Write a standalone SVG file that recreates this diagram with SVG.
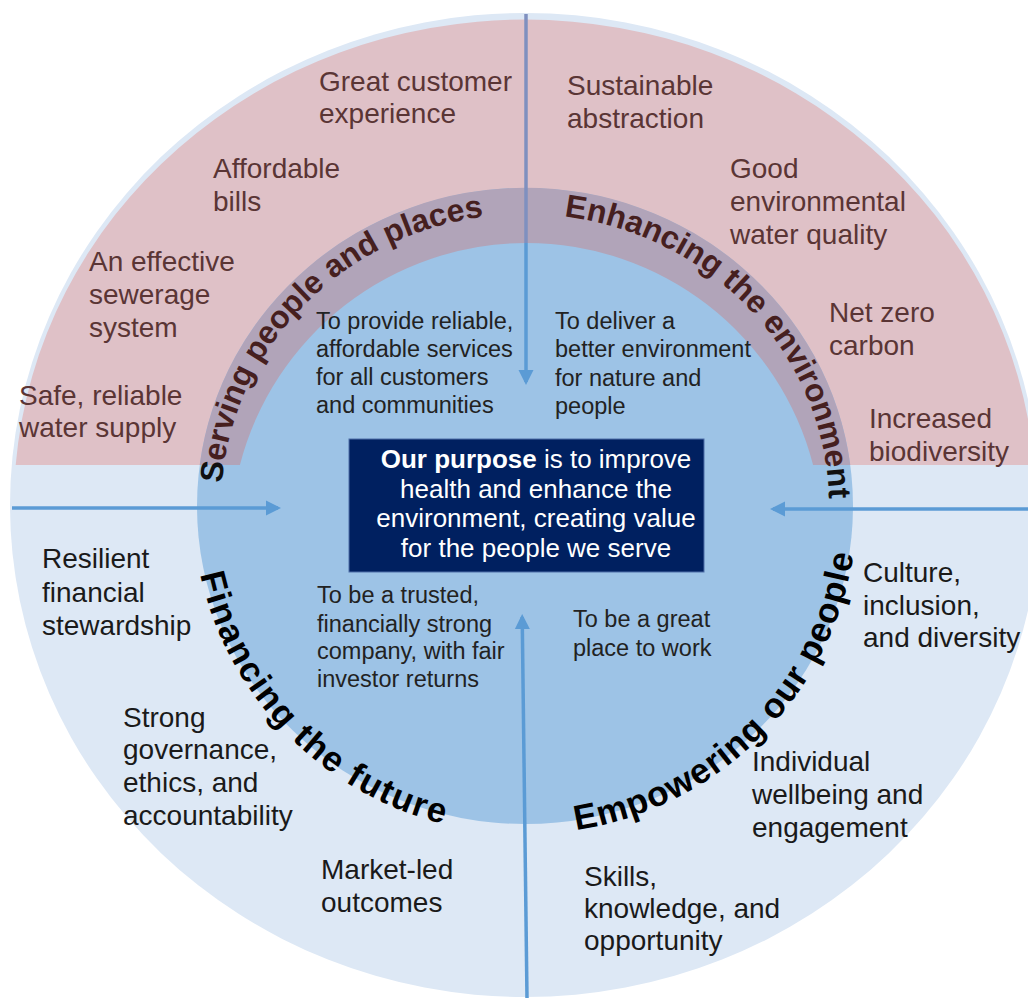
<svg xmlns="http://www.w3.org/2000/svg" width="1028" height="998" viewBox="0 0 1028 998">
  <style>
    .lbl { font-family: "Liberation Sans", Arial, sans-serif; font-size: 28px; }
    .up { fill: #5a3535; }
    .dn { fill: #1a1a1a; }
    .desc { font-family: "Liberation Sans", Arial, sans-serif; font-size: 23.5px; fill: #222222; }
    .bu { font-family: "Liberation Sans", Arial, sans-serif; font-weight: bold; font-size: 32px; fill: #461f1f; }
    .bk { fill: #111111; }
    .bd { font-family: "Liberation Sans", Arial, sans-serif; font-weight: bold; font-size: 35px; fill: #000000; }
    .fin { letter-spacing: 1.6px; }
    .emp { letter-spacing: 1px; }
    .purpose { font-family: "Liberation Sans", Arial, sans-serif; font-size: 26px; fill: #ffffff; }
    .conn { stroke: #5b9bd5; stroke-width: 3.5; fill: none; }
  </style>
  <defs>
    <marker id="ah" markerUnits="userSpaceOnUse" markerWidth="16" markerHeight="16" refX="12" refY="8" orient="auto">
      <path d="M0,0.5 L15,8 L0,15.5 Z" fill="#5b9bd5"/>
    </marker>
    <path id="pServing" d="M 221.9 483.1 A 304 292 0 0 1 551.5 215.1"/>
    <path id="pEnhancing" d="M 564.2 216.4 A 304 292 0 0 1 827.8 531.5"/>
    <path id="pFinancing" d="M 200.3 574.2 A 332 328 0 0 0 525 834"/>
    <path id="pEmpowering" d="M 576 830.1 A 332 328 0 0 0 853.8 460.4"/>
  </defs>

  <g id="rings">
    <ellipse cx="525" cy="505" rx="515" ry="492" fill="#dde8f5"/>
    <path d="M 15.7 465 A 511 485 0 0 1 1034.3 465 L 813.1 465 A 296 296 0 0 0 239.9 465 Z" fill="#dfc1c7"/>
    <ellipse cx="525" cy="506" rx="328" ry="318" fill="#9dc3e6"/>
    <path d="M 199.7 465 A 328 318 0 0 1 850.3 465 L 813.1 465 A 296 296 0 0 0 239.9 465 Z" fill="#b1a4b9"/>
  </g>

  <g id="connectors">
    <line x1="526" y1="14" x2="526" y2="243" stroke="#7f90bf" stroke-width="3.5"/>
    <line class="conn" x1="526" y1="243" x2="526" y2="382" marker-end="url(#ah)"/>
    <line class="conn" x1="527" y1="998" x2="522.2" y2="617" marker-end="url(#ah)"/>
    <line class="conn" x1="12" y1="508" x2="278" y2="508" marker-end="url(#ah)"/>
    <line class="conn" x1="1028" y1="509" x2="773" y2="509" marker-end="url(#ah)"/>
  </g>

  <g id="serving-people-and-places">
    <g id="serving-title">
      <text class="bu"><textPath href="#pServing" startOffset="0"><tspan class="bk">S</tspan>erving</textPath></text>
      <text class="bu"><textPath href="#pServing" startOffset="126.27">people</textPath></text>
      <text class="bu"><textPath href="#pServing" startOffset="238.3">and</textPath></text>
      <text class="bu"><textPath href="#pServing" startOffset="304.1">places</textPath></text>
    </g>
    <text class="desc"><tspan x="316" y="329">To provide reliable,</tspan><tspan x="316" y="357">affordable services</tspan><tspan x="316" y="385">for all customers</tspan><tspan x="316" y="413">and communities</tspan></text>
    <text class="lbl up"><tspan x="319" y="91">Great customer</tspan><tspan x="319" y="123">experience</tspan></text>
    <text class="lbl up"><tspan x="213" y="178">Affordable</tspan><tspan x="213" y="211">bills</tspan></text>
    <text class="lbl up"><tspan x="89" y="271">An effective</tspan><tspan x="89" y="304">sewerage</tspan><tspan x="89" y="337">system</tspan></text>
    <text class="lbl up"><tspan x="19" y="405">Safe, reliable</tspan><tspan x="19" y="437">water supply</tspan></text>
  </g>

  <g id="enhancing-the-environment">
    <g id="enhancing-title">
      <text class="bu"><textPath href="#pEnhancing" startOffset="0">Enhancing</textPath></text>
      <text class="bu"><textPath href="#pEnhancing" startOffset="172.48">the</textPath></text>
      <text class="bu"><textPath href="#pEnhancing" startOffset="229.38">environme<tspan class="bk">nt</tspan></textPath></text>
    </g>
    <text class="desc"><tspan x="555" y="329">To deliver a</tspan><tspan x="555" y="357">better environment</tspan><tspan x="555" y="386">for nature and</tspan><tspan x="555" y="414">people</tspan></text>
    <text class="lbl up"><tspan x="567" y="95">Sustainable</tspan><tspan x="567" y="128">abstraction</tspan></text>
    <text class="lbl up"><tspan x="730" y="178">Good</tspan><tspan x="730" y="211">environmental</tspan><tspan x="730" y="244">water quality</tspan></text>
    <text class="lbl up"><tspan x="829" y="322">Net zero</tspan><tspan x="829" y="355">carbon</tspan></text>
    <text class="lbl up"><tspan x="869" y="428">Increased</tspan><tspan x="869" y="461">biodiversity</tspan></text>
  </g>

  <g id="financing-the-future">
    <g id="financing-title">
      <text class="bd fin"><textPath href="#pFinancing" startOffset="0">Financing</textPath></text>
      <text class="bd fin"><textPath href="#pFinancing" startOffset="191.04">the</textPath></text>
      <text class="bd fin"><textPath href="#pFinancing" startOffset="259.67">future</textPath></text>
    </g>
    <text class="desc"><tspan x="317" y="603">To be a trusted,</tspan><tspan x="317" y="632">financially strong</tspan><tspan x="317" y="659">company, with fair</tspan><tspan x="317" y="687">investor returns</tspan></text>
    <text class="lbl dn"><tspan x="42" y="568">Resilient</tspan><tspan x="42" y="602">financial</tspan><tspan x="42" y="635">stewardship</tspan></text>
    <text class="lbl dn"><tspan x="123" y="727">Strong</tspan><tspan x="123" y="759">governance,</tspan><tspan x="123" y="792">ethics, and</tspan><tspan x="123" y="825">accountability</tspan></text>
    <text class="lbl dn"><tspan x="321" y="879">Market-led</tspan><tspan x="321" y="912">outcomes</tspan></text>
  </g>

  <g id="empowering-our-people">
    <g id="empowering-title">
      <text class="bd emp"><textPath href="#pEmpowering" startOffset="0">Empowering</textPath></text>
      <text class="bd emp"><textPath href="#pEmpowering" startOffset="230.77">our</textPath></text>
      <text class="bd emp"><textPath href="#pEmpowering" startOffset="300.88">people</textPath></text>
    </g>
    <text class="desc"><tspan x="573" y="627">To be a great</tspan><tspan x="573" y="656">place to work</tspan></text>
    <text class="lbl dn"><tspan x="863" y="582">Culture,</tspan><tspan x="863" y="615">inclusion,</tspan><tspan x="863" y="647">and diversity</tspan></text>
    <text class="lbl dn"><tspan x="752" y="771">Individual</tspan><tspan x="752" y="804">wellbeing and</tspan><tspan x="752" y="837">engagement</tspan></text>
    <text class="lbl dn"><tspan x="584" y="886">Skills,</tspan><tspan x="584" y="918">knowledge, and</tspan><tspan x="584" y="950">opportunity</tspan></text>
  </g>

  <g id="purpose">
    <rect x="349" y="439" width="355" height="133" fill="#002060" stroke="#4f6fa8" stroke-width="1"/>
    <text class="purpose" text-anchor="middle"><tspan x="536" y="468"><tspan font-weight="bold">Our purpose</tspan> is to improve</tspan><tspan x="536" y="497.5">health and enhance the</tspan><tspan x="536" y="527">environment, creating value</tspan><tspan x="536" y="556.5">for the people we serve</tspan></text>
  </g>
</svg>
